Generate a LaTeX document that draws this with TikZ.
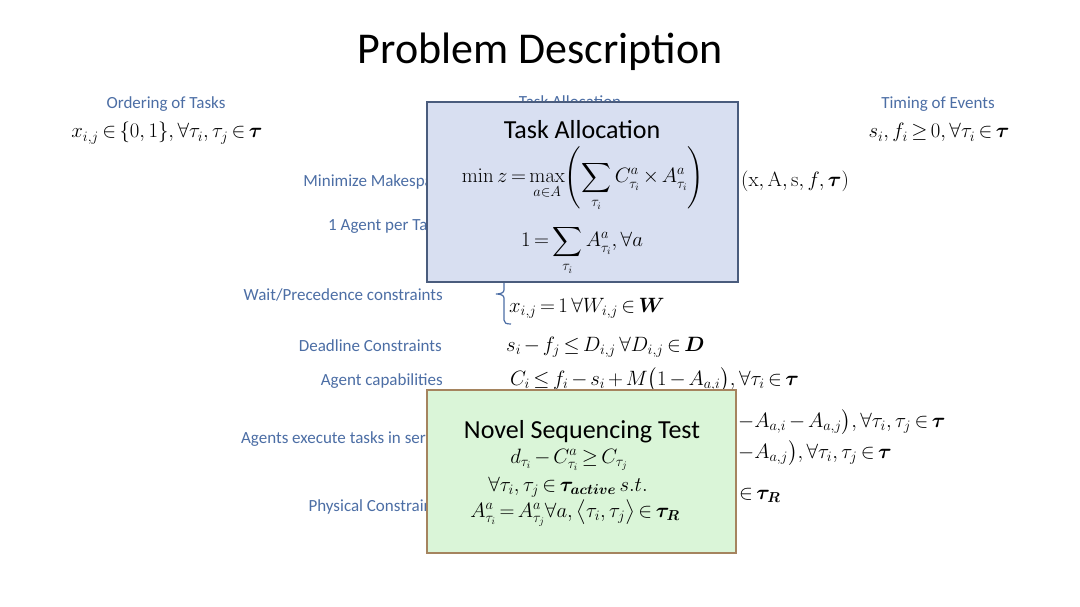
\documentclass[tikz,border=0pt]{standalone}
\usepackage{amsmath}
\usepackage[no-math]{fontspec}
\setmainfont{Carlito}
\definecolor{lblblue}{RGB}{76,110,165}
\definecolor{tafill}{RGB}{216,223,241}
\definecolor{taline}{RGB}{74,92,125}
\definecolor{nsfill}{RGB}{218,245,216}
\definecolor{nsline}{RGB}{165,132,95}
\newcommand{\tightmath}{\thickmuskip=3mu plus 2mu\medmuskip=2.5mu plus 1mu minus 1mu}
\tikzset{
  lbl/.style={text=lblblue, font=\fontsize{17}{20}\selectfont, inner sep=0pt},
  eqn/.style={font=\fontsize{19.5}{24}\selectfont\tightmath, inner sep=0pt},
  boxtitle/.style={font=\fontsize{26}{30}\selectfont, inner sep=0pt},
  boxeqn/.style={font=\fontsize{19.5}{24}\selectfont\tightmath, inner sep=0pt},
  tabox/.style={draw=taline, fill=tafill, line width=1.8pt, minimum width=311pt, minimum height=180pt, inner sep=0pt},
  nsbox/.style={draw=nsline, fill=nsfill, line width=1.5pt, minimum width=309pt, minimum height=163pt, inner sep=0pt},
}
\begin{document}
\begin{tikzpicture}[x=1pt,y=-1pt]
\useasboundingbox (0,0) rectangle (1080,607);
\fill[white] (0,0) rectangle (1080,607);

\node[font=\fontsize{44}{50}\selectfont, inner sep=0pt, anchor=base] (title) at (540,64) {Problem Description};

% top row
\node[lbl, anchor=base] (ordl) at (166,109) {Ordering of Tasks};
\node[eqn, anchor=base] (orde) at (167,138) {$x_{i,j}\in\{0,1\},\forall\tau_i,\tau_j\in\boldsymbol{\tau}$};
\node[lbl, anchor=base] (tall) at (570,108) {Task Allocation};
\node[lbl, anchor=base] (timl) at (938,109) {Timing of Events};
\node[eqn, anchor=base] (time) at (939,138) {$s_i,f_i\ge 0,\forall\tau_i\in\boldsymbol{\tau}$};

% left labels
\node[lbl, anchor=base east] (minl) at (442,186) {Minimize Makespan};
\node[lbl, anchor=base east] (agl) at (442,230) {1 Agent per Task};
\node[lbl, anchor=base east] (waitl) at (443,300) {Wait/Precedence constraints};
\node[lbl, anchor=base east] (deadl) at (442,351) {Deadline Constraints};
\node[lbl, anchor=base east] (capl) at (443,385) {Agent capabilities};
\node[lbl, anchor=base east] (serl) at (445,443) {Agents execute tasks in series};
\node[lbl, anchor=base east] (phyl) at (445,511) {Physical Constraints};

% right equations
\node[eqn, anchor=base west] (mine) at (741,186) {$(\mathrm{x},\mathrm{A},\mathrm{s},f,\boldsymbol{\tau})$};
\node[eqn, anchor=base west] (waite) at (509,312) {$x_{i,j}=1\;\forall W_{i,j}\in\boldsymbol{W}$};
\node[eqn, anchor=base west] (deade) at (506,351) {$s_i-f_j\le D_{i,j}\,\forall D_{i,j}\in\boldsymbol{D}$};
\node[eqn, anchor=base west] (cape) at (510,385) {$C_i\le f_i-s_i+M\bigl(1-A_{a,i}\bigr),\forall\tau_i\in\boldsymbol{\tau}$};
\node[eqn, anchor=base west] (sere1) at (738,427) {$-A_{a,i}-A_{a,j}\bigr),\forall\tau_i,\tau_j\in\boldsymbol{\tau}$};
\node[eqn, anchor=base west] (sere2) at (738,458) {$-A_{a,j}\bigr),\forall\tau_i,\tau_j\in\boldsymbol{\tau}$};
\node[eqn, anchor=base west] (phye) at (739,499) {$\in\boldsymbol{\tau_R}$};

% brace
\draw[lblblue, line width=1.2pt] (504,282) -- (504,290) .. controls (504,293) and (500,294) .. (496,294)
  .. controls (500,294) and (504,295) .. (504,298) -- (504,320) .. controls (504,323) and (506,324) .. (511,324);

% Task Allocation box
\node[tabox] (ta) at (582.5,192) {};
\node[boxtitle, anchor=base] (tat) at (582,139) {Task Allocation};
\node[boxeqn, anchor=base] (tae1) at (583,183) {$\displaystyle \min z=\max_{a\in A}\Biggl(\sum_{\tau_i}C^a_{\tau_i}\times A^a_{\tau_i}\Biggr)$};
\node[boxeqn, anchor=base] (tae2) at (582,247) {$\displaystyle 1=\sum_{\tau_i}A^a_{\tau_i},\forall a$};

% Novel Sequencing Test box
\node[nsbox] (ns) at (581.5,471.5) {};
\node[boxtitle, anchor=base] (nst) at (582,438) {Novel Sequencing Test};
\node[boxeqn, anchor=base] (nse1) at (569,463) {$d_{\tau_i}-C^a_{\tau_i}\ge C_{\tau_j}$};
\node[boxeqn, anchor=base] (nse2) at (568,491) {$\forall\tau_i,\tau_j\in\boldsymbol{\tau_{active}}\,s.t.$};
\node[boxeqn, anchor=base] (nse3) at (575,517) {$A^a_{\tau_i}=A^a_{\tau_j}\forall a,\bigl\langle\tau_i,\tau_j\bigr\rangle\in\boldsymbol{\tau_R}$};
\end{tikzpicture}
\end{document}
